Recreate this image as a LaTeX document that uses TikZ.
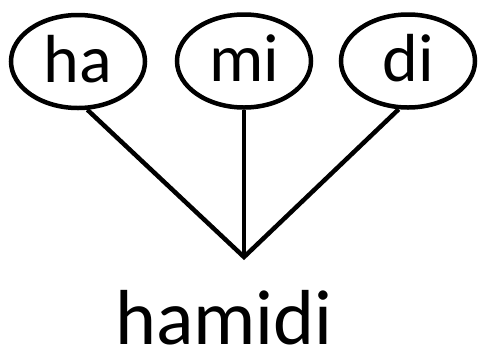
\documentclass[tikz,border=0pt]{standalone}
\usepackage{fontspec}
\setmainfont{Carlito}
\usetikzlibrary{shapes.geometric}
\begin{document}
\begin{tikzpicture}[x=1pt,y=-1pt,
  syl/.style={ellipse,draw,line width=4.5pt,inner sep=0pt,minimum width=134pt,minimum height=93pt,
    font=\fontsize{68}{68}\selectfont,text height=41pt,text depth=0pt},
  conn/.style={line width=4.5pt,miter limit=20},
  word/.style={font=\fontsize{78}{78}\selectfont,inner sep=0pt}]
\useasboundingbox (0,0) rectangle (479,349);
\node[syl] (ha) at (78,61.5) {ha};
\node[syl] (mi) at (244,61) {mi};
\node[syl] (di) at (408,61) {di};
\coordinate (j) at (244,257);
\draw[conn] (ha.-79) -- (j) -- (di.-101);
\draw[conn] (mi.south) -- (j);
\node[word,anchor=base] (w) at (224,344) {hamidi};
\end{tikzpicture}
\end{document}
